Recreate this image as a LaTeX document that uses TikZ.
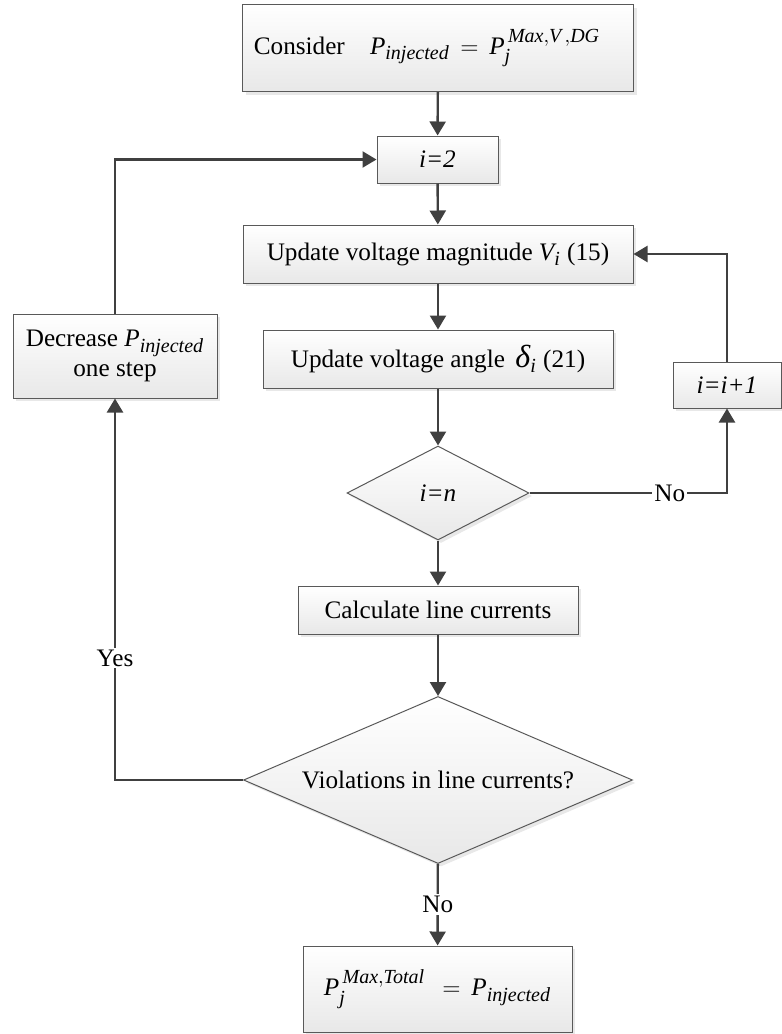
\documentclass[tikz,border=0pt]{standalone}
\usepackage{amsmath}
\usepackage{fontspec}
\setmainfont{Liberation Serif}
\usepackage{tikz}
\usetikzlibrary{shapes.geometric,arrows.meta,shadows}
\DeclareMathSizes{12.6}{12.6}{10}{8}

\newcommand{\vr}[1]{\textit{#1}}

\begin{document}
\begin{tikzpicture}[x=0.5pt,y=-0.5pt,
    font=\fontsize{12.6}{15}\selectfont,
    blk/.style={draw=black!65,line width=0.5pt,top color=white,bottom color=black!9,
        drop shadow={shadow xshift=1.5pt,shadow yshift=-1.5pt,opacity=0.18},
        inner sep=0pt,align=center},
    box/.style={blk,rectangle},
    dec/.style={blk,diamond},
    flow/.style={draw=black!75,line width=1.2pt,-{Triangle[length=7pt,width=8pt]}},
    lbl/.style={fill=white,inner sep=1pt}]
    \useasboundingbox (0,0) rectangle (782,1034);

        \node[box,minimum width=195.5pt,minimum height=43.5pt] (consider) at (438,48)
            {Consider\quad $\vr{P}_{\vr{injected}} \,=\, \vr{P}_{\vr{j}}^{\,\vr{Max},\vr{V}\,,\vr{DG}}$\hspace{11pt}};
        \node[box,minimum width=60.5pt,minimum height=23.5pt] (itwo) at (437.5,159.5) {\vr{i=2}};
        \node[box,minimum width=195pt,minimum height=29pt] (updv) at (438,254)
            {Update voltage magnitude $\vr{V}_{\vr{i}}$ (15)};
        \node[box,minimum width=175pt,minimum height=29pt] (upddelta) at (438,359)
            {Update voltage angle \,$\vr{\fontsize{16}{16}\selectfont δ}_{\vr{i}}$ (21)};
        \node[box,minimum width=54pt,minimum height=23pt] (iinc) at (727,385) {\vr{i=i+1}};
        \node[dec,aspect=1.94,minimum width=91pt,minimum height=47pt] (ien) at (438,493) {\vr{i=n}};
        \node[box,minimum width=140pt,minimum height=24pt] (calc) at (438,610) {Calculate line currents};
        \node[dec,aspect=2.33,minimum width=194.5pt,minimum height=83.5pt] (viol) at (438,780)
            {Violations in line currents?};
        \node[box,minimum width=134.5pt,minimum height=43pt] (final) at (437.5,989)
            {$\vr{P}_{\vr{j}}^{\,\vr{Max},\vr{Total}} \;\,=\, \vr{P}_{\vr{injected}}$};
        \node[box,minimum width=102pt,minimum height=42pt] (decr) at (115,356)
            {Decrease $\vr{P}_{\vr{injected}}$\\one step};

        \draw[flow] (consider) -- (itwo);
        \draw[flow] (itwo) -- (updv);
        \draw[flow] (updv) -- (upddelta);
        \draw[flow] (upddelta) -- (ien);
        \draw[flow] (ien) -- (calc);
        \draw[flow] (calc) -- (viol);
        \draw[flow] (viol) -- node[lbl] {No} (final);
        \draw[flow] (ien.east) -| node[lbl,pos=0.355] {No} (iinc.south);
        \draw[flow] (iinc.north) |- (updv.east);
        \draw[flow] (viol.west) -| node[lbl,pos=0.66] {Yes} (decr.south);
        \draw[flow] (decr.north) |- (itwo.west);
    \end{tikzpicture}
\end{document}
